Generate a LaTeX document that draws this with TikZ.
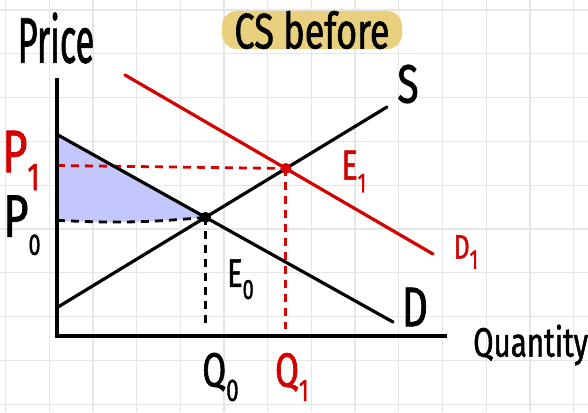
\documentclass[tikz,border=0pt]{standalone}
\usepackage{fontspec}
\usepackage{graphicx}
\usetikzlibrary{positioning, calc}
\newfontfamily\hand[FakeStretch=0.72, FakeBold=1.2]{Fira Sans}
\definecolor{gridgray}{HTML}{E6E6E6}
\definecolor{shiftred}{HTML}{D40000}
\definecolor{csblue}{HTML}{C4C7FB}
\definecolor{marker}{HTML}{E8D07E}
\newcommand{\sub}[2][0.65]{\raisebox{-0.3em}{\scalebox{#1}{#2}}}
\tikzset{
    gridline/.style = {gridgray, line width=1.3pt},
    curve/.style = {line width=3.2pt, line cap=round},
    axis/.style = {line width=3.4pt},
    guide/.style = {line width=2.8pt, dash pattern=on 8pt off 6pt},
    dot/.style = {circle, fill, inner sep=0pt, minimum size=11pt},
    lbl/.style = {font=\hand\fontsize{#1}{#1}\selectfont, inner sep=0pt},
}

\begin{document}
\begin{tikzpicture}[x=1pt, y=-1pt]
        \fill[white] (0,0) rectangle (588,412);
        \useasboundingbox (0,0) rectangle (588,412);
        % grid paper
        \foreach \gx in {0,...,13} \draw[gridline] (5.5+43.7*\gx,0) -- (5.5+43.7*\gx,412);
        \foreach \gy in {0,...,9} \draw[gridline] (0,10+43.8*\gy) -- (588,10+43.8*\gy);
        % axes and curve ends
        \coordinate (O) at (57,336);
        \coordinate (ytop) at (57,78);
        \coordinate (xend) at (447,336);
        \coordinate (Dlo) at (58,135);
        \coordinate (Dhi) at (393,322);
        \coordinate (Slo) at (58,307);
        \coordinate (Shi) at (387,107);
        \coordinate (D1lo) at (125,75);
        \coordinate (D1hi) at (433,254);
        \coordinate (E0) at (intersection of Dlo--Dhi and Slo--Shi);
        \coordinate (E1) at (intersection of D1lo--D1hi and Slo--Shi);
        \coordinate (P0) at ($(E0 -| O)+(0,3)$);
        % consumer surplus
        \fill[csblue] (Dlo) -- (E0) to[bend left=4] (P0) -- cycle;
        % guides
        \draw[guide, shiftred] ($(E1 -| O)+(0,-3)$) -- (E1);
        \draw[guide, shiftred] (E1) -- ($(E1 |- O)+(0,-7)$);
        \draw[guide] (P0) to[bend right=4] (E0);
        \draw[guide] (E0) -- ($(E0 |- O)+(0,-10)$);
        % curves
        \draw[curve] (Slo) -- (Shi);
        \draw[curve] (Dlo) -- (Dhi);
        \draw[curve, shiftred] (D1lo) -- (D1hi);
        \draw[axis] (ytop) -- (O) -- (xend);
        \node[dot] (e0) at (E0) {};
        \node[dot, shiftred] (e1) at (E1) {};

        % labels
        \node[lbl=56] (price) at (56,38) {\scalebox{0.85}[1.15]{Price}};
        \node[lbl=50, fill=marker, rounded corners=15pt, minimum width=180pt, minimum height=31pt] (title) at (312,30) {CS before};
        \node[lbl=54] (lblS) at ($(Shi)+(21,-23)$) {S};
        \node[lbl=42, shiftred] (lblE1) at ($(E1)+(68,3)$) {E\sub{1}};
        \node[lbl=34, shiftred] (lblD1) at ($(D1hi)+(33,-2)$) {D\sub[0.8]{1}};
        \node[lbl=56] (lblD) at ($(Dhi)+(22,-15)$) {D};
        \node[lbl=40] (lblE0) at ($(E0)+(35,62)$) {E\sub[0.7]{0}};
        \node[lbl=48] (lblQ0) at ($(E0 |- O)+(15,41)$) {Q\sub{0}};
        \node[lbl=48, shiftred] (lblQ1) at ($(E1 |- O)+(6,41)$) {Q\sub{1}};
        \node[lbl=60, shiftred] (lblP1) at ($(E1 -| O)+(-36,-8)$) {P\sub{1}};
        \node[lbl=60] (lblP0) at ($(E0 -| O)+(-35,8)$) {P\sub[0.5]{0}};
        \node[lbl=41, anchor=west] (lblQ) at ($(xend)+(26,9)$) {Quantity};
\end{tikzpicture}
\end{document}
